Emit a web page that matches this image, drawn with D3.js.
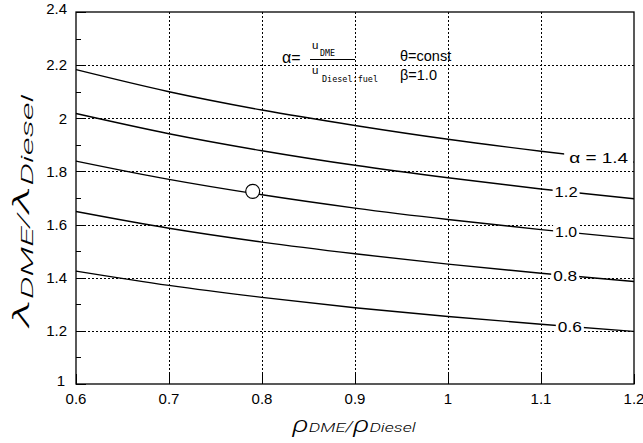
<!DOCTYPE html>
<html><head><meta charset="utf-8">
<script src="https://cdn.jsdelivr.net/npm/d3@7"></script>
<style>body{margin:0;background:#fff}svg{display:block}</style>
</head><body><svg id="c" width="643" height="443"></svg>
<script>
// ---- data ----
const rhoRatio = [0.6, 0.7, 0.8, 0.9, 1.0, 1.1, 1.2];
const alphaValues = [1.4, 1.2, 1.0, 0.8, 0.6];
const lambdaA14 = [2.183, 2.100, 2.031, 1.973, 1.921, 1.876, 1.835];
const lambdaA12 = [2.018, 1.942, 1.878, 1.823, 1.776, 1.734, 1.697];
const lambdaA10 = [1.839, 1.770, 1.712, 1.662, 1.619, 1.581, 1.547];
const lambdaA08 = [1.649, 1.586, 1.534, 1.490, 1.451, 1.417, 1.386];
const lambdaA06 = [1.425, 1.371, 1.326, 1.287, 1.254, 1.225, 1.198];
const curveLabels = ["α = 1.4", "1.2", "1.0", "0.8", "0.6"];
const curveLabelAt = [1.162, 1.127, 1.127, 1.126, 1.131];
const xTicks = [0.6, 0.7, 0.8, 0.9, 1.0, 1.1, 1.2];
const xTickLabels = ["0.6", "0.7", "0.8", "0.9", "1", "1.1", "1.2"];
const yTicks = [1.0, 1.2, 1.4, 1.6, 1.8, 2.0, 2.2, 2.4];
const yTickLabels = ["1", "1.2", "1.4", "1.6", "1.8", "2", "2.2", "2.4"];
const yMinorTicks = [1.1, 1.3, 1.5, 1.7, 1.9, 2.1, 2.3];
const markerX = [0.79];
const markerY = [1.725];

const series = [lambdaA14, lambdaA12, lambdaA10, lambdaA08, lambdaA06];

// ---- layout ----
const L = 76, R = 634, T = 12, B = 384;
const svg = d3.select("#c");
const x = d3.scaleLinear().domain([0.6, 1.2]).range([L, R]);
const y = d3.scaleLinear().domain([1.0, 2.4]).range([B, T]);
const FONT = "'Liberation Sans', Arial, sans-serif";

// grid
const grid = svg.append("g").attr("stroke", "#000").attr("stroke-width", 1).attr("stroke-dasharray", "2,2");
xTicks.slice(1, -1).forEach(v => {
  const px = Math.round(x(v)) + 0.5;
  grid.append("line").attr("x1", px).attr("x2", px).attr("y1", T).attr("y2", B);
});
yTicks.slice(1, -1).forEach(v => {
  const py = Math.round(y(v)) + 0.5;
  grid.append("line").attr("x1", L).attr("x2", R).attr("y1", py).attr("y2", py);
});

// ticks (inward)
const ticks = svg.append("g").attr("stroke", "#000").attr("stroke-width", 1);
yTicks.forEach(v => { const py = Math.round(y(v)) + 0.5; ticks.append("line").attr("x1", L).attr("x2", L + 10).attr("y1", py).attr("y2", py); });
yMinorTicks.forEach(v => { const py = Math.round(y(v)) + 0.5; ticks.append("line").attr("x1", L).attr("x2", L + 5).attr("y1", py).attr("y2", py); });
xTicks.forEach(v => { const px = Math.round(x(v)) + 0.5; ticks.append("line").attr("x1", px).attr("x2", px).attr("y1", B).attr("y2", B - 10); });

// curves
const line = d3.line().x((d, i) => x(rhoRatio[i])).y(d => y(d)).curve(d3.curveMonotoneX);
series.forEach(s => {
  svg.append("path").attr("d", line(s)).attr("fill", "none").attr("stroke", "#000").attr("stroke-width", 1.4);
});

// curve labels with white gaps
const labelWidths = [59, 23, 22, 24, 24];
const labelLayer = svg.append("g");
series.forEach((s, k) => {
  const xv = curveLabelAt[k];
  const interp = d3.scaleLinear().domain(rhoRatio).range(s);
  const px = x(xv), py = y(interp(xv));
  const pad = k === 0 ? 5 : 2;
  labelLayer.append("rect").attr("x", px - labelWidths[k] / 2 - pad).attr("y", py - 8)
    .attr("width", labelWidths[k] + 2 * pad).attr("height", 16).attr("fill", "#fff");
  labelLayer.append("text").attr("x", px).attr("y", py).attr("dy", "0.36em")
    .attr("text-anchor", "middle").attr("font-family", FONT).attr("font-size", 15)
    .attr("textLength", labelWidths[k]).attr("lengthAdjust", "spacingAndGlyphs")
    .text(curveLabels[k]);
});

// marker
svg.append("circle").attr("cx", x(markerX[0])).attr("cy", y(markerY[0])).attr("r", 7)
  .attr("fill", "#fff").attr("stroke", "#000").attr("stroke-width", 1.2);

// frame
svg.append("rect").attr("x", L).attr("y", T).attr("width", R - L).attr("height", B - T)
  .attr("fill", "none").attr("stroke", "#000").attr("stroke-width", 1.3);

// tick labels
xTicks.forEach((v, i) => {
  svg.append("text").attr("x", x(v)).attr("y", 404).attr("text-anchor", "middle")
    .attr("font-family", FONT).attr("font-size", 15).text(xTickLabels[i]);
});
yTicks.forEach((v, i) => {
  const tt = svg.append("text").attr("x", 67).attr("y", y(v)).attr("dy", "0.35em").attr("text-anchor", "end")
    .attr("font-family", FONT).attr("font-size", 15).text(yTickLabels[i]);
  if (i === 0) tt.attr("x", 65).attr("dy", "0.1em");
  if (i === yTicks.length - 1) tt.attr("dy", "0.15em");
});

// formula annotation
const ann = svg.append("g").attr("font-family", FONT).attr("fill", "#000");
ann.append("text").attr("x", 282).attr("y", 63).attr("font-size", 16).text("α=");
ann.append("text").attr("x", 312).attr("y", 48.5).attr("font-size", 11.5).text("u");
ann.append("text").attr("x", 320).attr("y", 56).attr("font-size", 8.5).attr("font-family", "'DejaVu Sans Mono', monospace").attr("textLength", 15).attr("lengthAdjust", "spacingAndGlyphs").text("DME");
ann.append("line").attr("x1", 310).attr("x2", 355).attr("y1", 59.5).attr("y2", 59.5).attr("stroke", "#000").attr("stroke-width", 1);
ann.append("text").attr("x", 312).attr("y", 73.5).attr("font-size", 11.5).text("u");
ann.append("text").attr("x", 322).attr("y", 81.5).attr("font-size", 8.5).attr("font-family", "'DejaVu Sans Mono', monospace").attr("textLength", 56).attr("lengthAdjust", "spacingAndGlyphs").text("Diesel:fuel");
ann.append("text").attr("x", 400).attr("y", 60.5).attr("font-size", 14.5).text("θ=const");
ann.append("text").attr("x", 400).attr("y", 80).attr("font-size", 14.5).text("β=1.0");

// axis titles
const TFONT = "Roboto, 'Liberation Sans', sans-serif";
function title(g, parts, target) {
  const t = g.append("text").attr("text-anchor", "middle").attr("font-family", TFONT)
    .attr("font-weight", 300).attr("font-style", "italic");
  parts.forEach(p => { t.append("tspan").attr("font-size", p[1]).attr("dy", p[2]).text(p[0]); });
  const w = t.node().getBBox().width;
  t.attr("transform", `scale(${target / w},1)`);
}
const gx = svg.append("g").attr("transform", "translate(354,432)");
title(gx, [["ρ", 22, 0], ["DME", 13, 0], ["/", 14, 0], ["ρ", 22, 0], ["Diesel", 13, 0]], 125);
const gy = svg.append("g").attr("transform", "translate(29,211) rotate(-90)");
title(gy, [["λ", 24, 0], ["DME", 16, 4], ["/", 16, -4], ["λ", 24, 0], ["Diesel", 16, 4]], 236);
</script></body></html>
